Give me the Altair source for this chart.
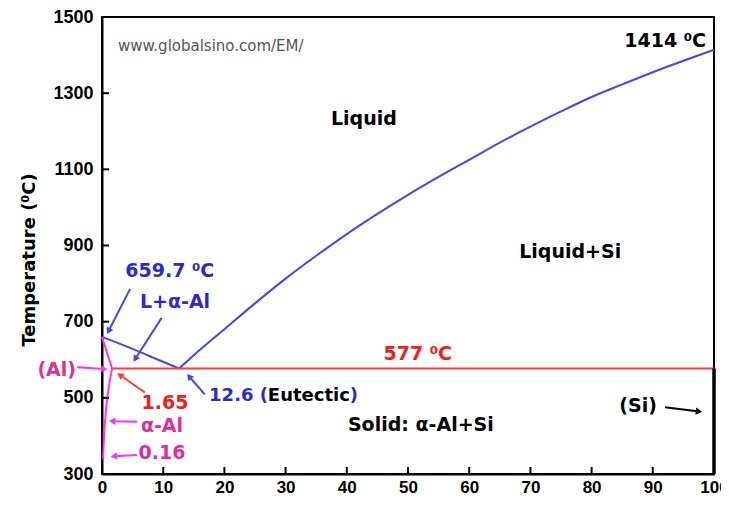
import math
import altair as alt
import pandas as pd

# ---------------- data ----------------
x_ticks = [0, 10, 20, 30, 40, 50, 60, 70, 80, 90, 100]
y_ticks = [300, 500, 700, 900, 1100, 1300, 1500]

# liquidus, Al-rich side (659.7 C -> eutectic)
liq_al_x = [0, 4, 8, 12.6]
liq_al_t = [660, 635, 608, 577]

# liquidus, Si-rich side (eutectic -> 1414 C)
liq_si_x = [12.6, 15, 20, 25, 30, 35, 40, 45, 50, 55, 60, 65, 70, 75, 80, 85, 90, 95, 100]
liq_si_t = [577, 612, 680, 748, 813, 873, 930, 983, 1033, 1080, 1125, 1170, 1212, 1252,
            1290, 1323, 1355, 1385, 1414]

# eutectic isotherm
eut_x = [1.65, 100]
eut_t = [577, 577]

# solidus + solvus of (Al)
sol_x = [0, 1.65, 1.3, 0.77, 0.4, 0.16]
sol_t = [660, 577, 548, 489, 420, 340]

# (Si) line
si_x = [100, 100]
si_t = [300, 577]

# annotations: text, x, T
ann_text = ["www.globalsino.com/EM/", "1414 \u2070C", "Liquid", "Liquid+Si",
            "659.7 \u2070C", "L+\u03b1-Al", "577 \u2070C", "(Al)", "1.65", "\u03b1-Al",
            "0.16", "Solid: \u03b1-Al+Si", "(Si)"]
ann_x = [2.6, 98.7, 42.8, 76.5, 3.8, 6.2, 51.6, -7.4, 10.3, 9.8, 9.8, 52.1, 87.6]
ann_t = [1424, 1437, 1233, 883, 833, 752, 614, 572, 486, 426, 354, 428, 478]

# eutectic composition label pieces
eut_lbl_text = ["12.6 (", "Eutectic", ")"]
eut_lbl_x = [17.5, 27.1, 40.5]
eut_lbl_t = [504, 504, 504]

# arrows: tail x, tail T, head x, head T
arr_tx = [4.6, 9.75, 16.8, 7.0, -4.1, 5.7, 5.7, 92.0]
arr_tt = [786, 710, 509, 514, 580, 437, 350, 475]
arr_hx = [0.77, 5.07, 13.8, 2.4, 1.03, 1.0, 1.3, 98.2]
arr_ht = [666, 593, 564, 566, 575, 439, 346, 463]

# ---------------- styles ----------------
BLUE_TXT = "#2a2ad2"
BLUE_LN = "#4646ee"
RED_TXT = "#f02020"
RED_LN = "#ff3b3b"
MAG_TXT = "#d8309f"
MAG_LN = "#ff30ff"
ANN_FONT = "DejaVu Sans"
AX_FONT = "Liberation Sans"

ann_color = ["#555555", "black", "black", "black", BLUE_TXT, BLUE_TXT, RED_TXT,
             MAG_TXT, RED_TXT, MAG_TXT, MAG_TXT, "black", "black"]
ann_align = ["left", "right", "center", "center", "left", "left", "center",
             "center", "center", "center", "center", "center", "center"]
ann_size = [15, 19, 19, 19, 19, 19, 19, 19, 19, 19, 19, 19, 19]
ann_weight = ["normal"] + ["bold"] * 12
eut_lbl_color = [BLUE_TXT, "black", BLUE_TXT]
arr_color = [BLUE_LN, BLUE_LN, BLUE_LN, RED_LN, MAG_LN, MAG_LN, MAG_LN, "black"]

W, H = 612, 457
XS = alt.Scale(domain=[0, 100], nice=False, zero=False)
YS = alt.Scale(domain=[300, 1500], nice=False, zero=False)
PX_X = W / 100.0
PX_Y = H / 1200.0

XA = alt.Axis(values=x_ticks, title=None, ticks=False, grid=False, domainColor="black",
              domainWidth=2, labelFont=AX_FONT, labelFontSize=17, labelFontWeight="bold",
              labelColor="black", labelPadding=5, labelFlush=False, labelOverlap=False,
              format="d")
YA = alt.Axis(values=y_ticks, title=None, ticks=False, grid=False, domainColor="black",
              domainWidth=2, labelFont=AX_FONT, labelFontSize=18, labelFontWeight="bold",
              labelColor="black", labelPadding=9, labelFlush=False, labelOverlap=False,
              format="d")


def xenc(f="x"):
    return alt.X(f + ":Q", scale=XS, axis=XA)


def yenc(f="y"):
    return alt.Y(f + ":Q", scale=YS, axis=YA)


def line_layer(xs, ts, color, width=2, interp="linear"):
    df = pd.DataFrame({"x": xs, "y": ts, "i": list(range(len(xs)))})
    return alt.Chart(df).mark_line(color=color, strokeWidth=width, interpolate=interp).encode(
        x=xenc(), y=yenc(), order="i:Q")


layers = []
layers.append(line_layer(liq_al_x, liq_al_t, BLUE_LN, interp="monotone"))
layers.append(line_layer(liq_si_x, liq_si_t, BLUE_LN, interp="monotone"))
layers.append(line_layer(eut_x, eut_t, RED_LN))
layers.append(line_layer(sol_x, sol_t, MAG_LN))
layers.append(line_layer(si_x, si_t, "black", 3.5))

# inward ticks (7 px long)
tx_len = 7 / PX_Y
ty_len = 7 / PX_X
xt = pd.DataFrame({"x": x_ticks[1:-1]})
xt["y"] = 300
xt["y2"] = 300 + tx_len
layers.append(alt.Chart(xt).mark_rule(color="black", strokeWidth=2).encode(
    x=xenc(), y=yenc(), y2="y2:Q"))
yt = pd.DataFrame({"y": y_ticks})
yt["x"] = 0
yt["x2"] = ty_len
layers.append(alt.Chart(yt).mark_rule(color="black", strokeWidth=2).encode(
    x=xenc(), x2="x2:Q", y=yenc()))

# arrows
for tx, tt, hx, ht, c in zip(arr_tx, arr_tt, arr_hx, arr_ht, arr_color):
    dx = (hx - tx) * PX_X
    dy = -(ht - tt) * PX_Y
    L = math.hypot(dx, dy)
    k = max(0.0, (L - 4) / L)
    sx = tx + (hx - tx) * k
    st = tt + (ht - tt) * k
    ang = math.degrees(math.atan2(dx, -dy)) % 360
    seg = pd.DataFrame({"x": [tx], "y": [tt], "x2": [sx], "y2": [st]})
    layers.append(alt.Chart(seg).mark_rule(color=c, strokeWidth=2).encode(
        x=xenc(), y=yenc(), x2="x2:Q", y2="y2:Q"))
    bx = hx - (hx - tx) * (4 / L)
    bt = ht - (ht - tt) * (4 / L)
    hd = pd.DataFrame({"x": [bx], "y": [bt]})
    layers.append(alt.Chart(hd).mark_point(shape="triangle-up", filled=True, size=55,
                                           color=c, opacity=1, angle=ang,
                                           strokeWidth=0).encode(x=xenc(), y=yenc()))

# annotations
for t, x, y, c, a, s, w in zip(ann_text, ann_x, ann_t, ann_color, ann_align, ann_size, ann_weight):
    df = pd.DataFrame({"x": [x], "y": [y], "t": [t]})
    layers.append(alt.Chart(df).mark_text(color=c, align=a, baseline="middle", fontSize=s,
                                          fontWeight=w, font=ANN_FONT).encode(
        x=xenc(), y=yenc(), text="t:N"))

for t, x, y, c in zip(eut_lbl_text, eut_lbl_x, eut_lbl_t, eut_lbl_color):
    df = pd.DataFrame({"x": [x], "y": [y], "t": [t]})
    layers.append(alt.Chart(df).mark_text(color=c, align="left", baseline="middle", fontSize=18,
                                          fontWeight="bold", font=ANN_FONT).encode(
        x=xenc(), y=yenc(), text="t:N"))

# y axis title as rotated text
ttl = pd.DataFrame({"x": [-11.8], "y": [862], "t": ["Temperature (\u2070C)"]})
layers.append(alt.Chart(ttl).mark_text(color="black", align="center", baseline="middle",
                                       fontSize=18, fontWeight="bold", font=ANN_FONT,
                                       angle=270).encode(x=xenc(), y=yenc(), text="t:N"))

chart = alt.layer(*layers).properties(
    width=W, height=H,
    padding={"left": 94, "top": 9, "right": 7, "bottom": 23},
    autosize=alt.AutoSizeParams(type="none"),
    background="white",
).configure_view(stroke="black", strokeWidth=2)

chart.save("out.html", embed_options={"renderer": "svg", "actions": False})
